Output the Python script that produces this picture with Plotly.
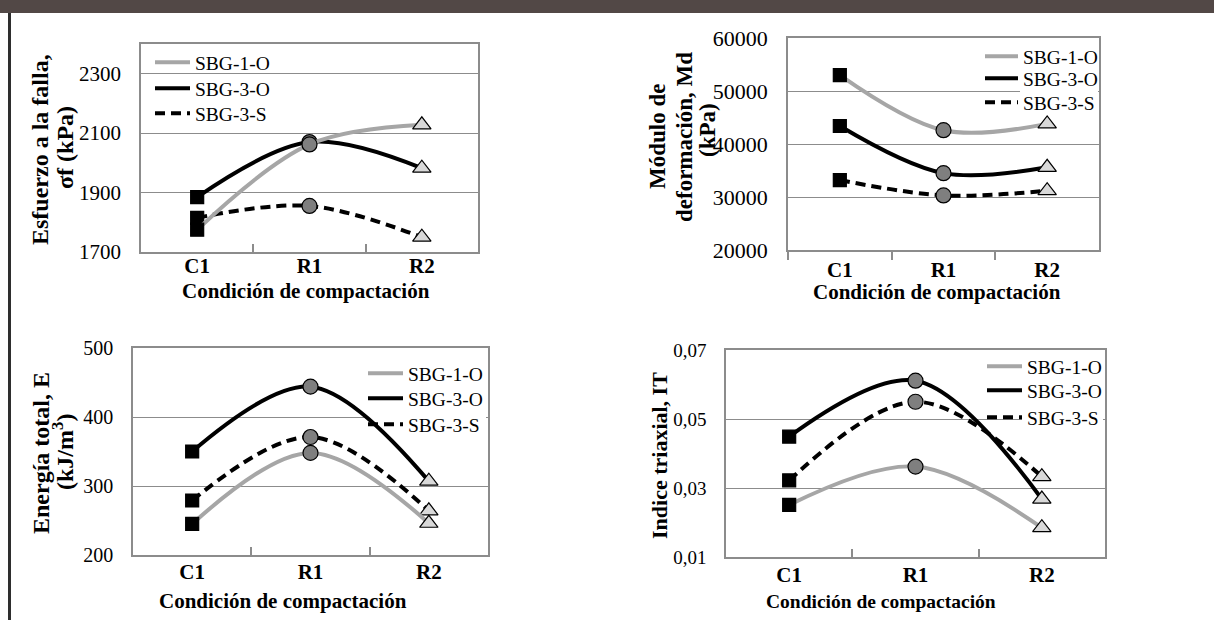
import plotly.graph_objects as go

W, H = 1214, 620

categories = ["C1", "R1", "R2"]
series_names = ["SBG-1-O", "SBG-3-O", "SBG-3-S"]

# Esfuerzo a la falla (kPa)
sigma_sbg1o = [1775, 2062, 2128]
sigma_sbg3o = [1885, 2070, 1982]
sigma_sbg3s = [1815, 1855, 1750]
# Módulo de deformación (kPa)
md_sbg1o = [53000, 42600, 43800]
md_sbg3o = [43400, 34500, 35600]
md_sbg3s = [33200, 30300, 31200]
# Energía total (kJ/m3)
e_sbg1o = [245, 348, 246]
e_sbg3o = [350, 444, 307]
e_sbg3s = [279, 371, 264]
# Indice triaxial
it_sbg1o = [0.0251, 0.0362, 0.0185]
it_sbg3o = [0.0449, 0.0611, 0.0268]
it_sbg3s = [0.0322, 0.0550, 0.0333]

SERIF = "Liberation Serif"
GRAY_AX = "#8c8c8c"

line_styles = {
    "SBG-1-O": dict(color="#a6a6a6", width=4, dash="solid"),
    "SBG-3-O": dict(color="#000000", width=4, dash="solid"),
    "SBG-3-S": dict(color="#000000", width=4, dash="10px,6px"),
}
marker_symbols = ["square", "circle", "triangle-up"]
marker_fills = ["#000000", "#7f7f7f", "#d9d9d9"]
marker_sizes = [13, 15, 16]


def fx(px):
    return px / W


def fy(py):
    return 1 - py / H


panels = [
    dict(ax="", data={"SBG-1-O": sigma_sbg1o, "SBG-3-O": sigma_sbg3o, "SBG-3-S": sigma_sbg3s},
         box=(141, 478, 44, 252), yr=[1700, 2400], tick0=1700, dtick=200, fmt="d",
         legx=150, legw=35, legrows=[62, 88, 113], ytick=21, xtitle=(306, 291, 21),
         xticks="inside", xstand=-6, legbox=None),
    dict(ax="2", data={"SBG-1-O": md_sbg1o, "SBG-3-O": md_sbg3o, "SBG-3-S": md_sbg3s},
         box=(788, 1099, 38, 250), yr=[20000, 60000], tick0=20000, dtick=10000, fmt="d",
         legx=980, legw=33, legrows=[56, 78, 102], ytick=22, xtitle=(937, 292, 21),
         xticks="outside", xstand=0, legbox=(1020, 1098, 44, 114)),
    dict(ax="3", data={"SBG-1-O": e_sbg1o, "SBG-3-O": e_sbg3o, "SBG-3-S": e_sbg3s},
         box=(133, 488, 348, 555), yr=[200, 500], tick0=200, dtick=100, fmt="d",
         legx=363, legw=35, legrows=[373, 398, 424], ytick=20, xtitle=(283, 601, 21),
         xticks="inside", xstand=-3, legbox=(366, 486, 360, 436)),
    dict(ax="4", data={"SBG-1-O": it_sbg1o, "SBG-3-O": it_sbg3o, "SBG-3-S": it_sbg3s},
         box=(726, 1105, 350, 557), yr=[0.01, 0.07], tick0=0.01, dtick=0.02, fmt=".2f",
         legx=982, legw=35, legrows=[366, 390, 417], ytick=19, xtitle=(881, 601, 19.5),
         xticks="inside", xstand=-2, legbox=(1022, 1103, 352, 430)),
]

fig = go.Figure()
layout = dict(
    width=W, height=H, margin=dict(l=0, r=0, t=0, b=0, autoexpand=False),
    paper_bgcolor="white", plot_bgcolor="white",
    separators=",.", showlegend=True,
    font=dict(family=SERIF, color="black"),
)

annotations = []
shapes = []
leg_count = 0
for p in panels:
    xa = "x" + p["ax"]
    ya = "y" + p["ax"]
    # data traces (gray drawn last, on top)
    for name in ["SBG-3-S", "SBG-3-O", "SBG-1-O"]:
        fig.add_trace(go.Scatter(
            x=categories, y=p["data"][name], mode="lines+markers", name=name,
            line=dict(shape="spline", smoothing=1, **line_styles[name]),
            marker=dict(symbol=marker_symbols, color=marker_fills, size=marker_sizes, opacity=1,
                        line=dict(color="black", width=1.2)),
            xaxis=xa, yaxis=ya, showlegend=False, hoverinfo="skip"))
    # legend entries (line only), one legend per row for exact placement
    for name, row in zip(series_names, p["legrows"]):
        leg_count += 1
        lid = "legend" if leg_count == 1 else "legend%d" % leg_count
        fig.add_trace(go.Scatter(
            x=[None], y=[None], mode="lines", name=name,
            line=line_styles[name], xaxis=xa, yaxis=ya,
            showlegend=True, legend=lid))
        layout[lid] = dict(
            x=fx(p["legx"]), y=fy(row - 19), xanchor="left", yanchor="top",
            xref="paper", yref="paper", bgcolor="rgba(0,0,0,0)", borderwidth=0,
            itemwidth=p["legw"], font=dict(family=SERIF, size=19.5, color="black"))
    x0, x1, y0, y1 = p["box"]
    layout["xaxis" + p["ax"]] = dict(
        domain=[fx(x0), fx(x1)], anchor=ya, type="category",
        categoryorder="array", categoryarray=categories, range=[-0.5, 2.5],
        showline=True, mirror=True, linecolor=GRAY_AX, linewidth=1.5,
        ticks=p["xticks"], tickson="boundaries", ticklen=8, tickwidth=1.5, tickcolor=GRAY_AX,
        showgrid=False, zeroline=False,
        tickfont=dict(family=SERIF, size=21, color="black", weight="bold"),
        ticklabelstandoff=p["xstand"],
    )
    layout["yaxis" + p["ax"]] = dict(
        domain=[fy(y1), fy(y0)], anchor=xa, range=p["yr"], tick0=p["tick0"], dtick=p["dtick"],
        tickmode="linear", tickformat=p["fmt"],
        showline=True, mirror=True, linecolor=GRAY_AX, linewidth=1.5,
        showgrid=True, gridcolor=GRAY_AX, gridwidth=1.3, zeroline=False, ticks="",
        tickfont=dict(family=SERIF, size=p["ytick"], color="black"),
        ticklabelstandoff=14,
    )
    if p["legbox"]:
        # white patch behind legend text (hides gridlines, stays under the data lines)
        bx0, bx1, by0, by1 = p["legbox"]
        r0, r1 = p["yr"]
        shapes.append(dict(
            type="rect", xref=xa, yref=ya,
            x0=-0.5 + 3 * (bx0 - x0) / (x1 - x0), x1=-0.5 + 3 * (bx1 - x0) / (x1 - x0),
            y0=r0 + (r1 - r0) * (y1 - by1) / (y1 - y0), y1=r0 + (r1 - r0) * (y1 - by0) / (y1 - y0),
            fillcolor="white", line=dict(width=0), layer="between"))
    tx, ty, ts = p["xtitle"]
    annotations.append(dict(
        text="Condición de compactación", x=fx(tx), y=fy(ty), xref="paper", yref="paper",
        xanchor="center", yanchor="middle", showarrow=False,
        font=dict(family=SERIF, size=ts, color="black", weight="bold")))

# y-axis titles (each line separately)
ytitles = [
    ("Esfuerzo a la falla,", 40, 150, 24),
    ("σf (kPa)", 65, 148, 24),
    ("Módulo de", 657, 137, 23),
    ("deformación, Md", 684, 137, 23),
    ("(kPa)", 707, 130, 23),
    ("Energía total, E", 41, 453, 24),
    ("(kJ/m<sup>3</sup>)", 63, 452, 24),
    ("Indice triaxial, IT", 659, 456, 22),
]
for t, x, y, s in ytitles:
    annotations.append(dict(
        text=t, x=fx(x), y=fy(y), xref="paper", yref="paper", textangle=-90,
        xanchor="center", yanchor="middle", showarrow=False,
        font=dict(family=SERIF, size=s, color="black", weight="bold")))

layout["annotations"] = annotations
shapes += [
    dict(type="rect", xref="paper", yref="paper", x0=0, x1=1, y0=fy(13), y1=1,
         fillcolor="#524846", line=dict(width=0), layer="above"),
    dict(type="line", xref="paper", yref="paper", x0=fx(9.5), x1=fx(9.5), y0=0, y1=fy(13),
         line=dict(color="#2e2e2e", width=3)),
]
layout["shapes"] = shapes
fig.update_layout(**layout)
fig.write_html("out.html", config={"displayModeBar": False},
               post_script="document.body.style.margin='0';document.body.style.overflow='hidden';")
